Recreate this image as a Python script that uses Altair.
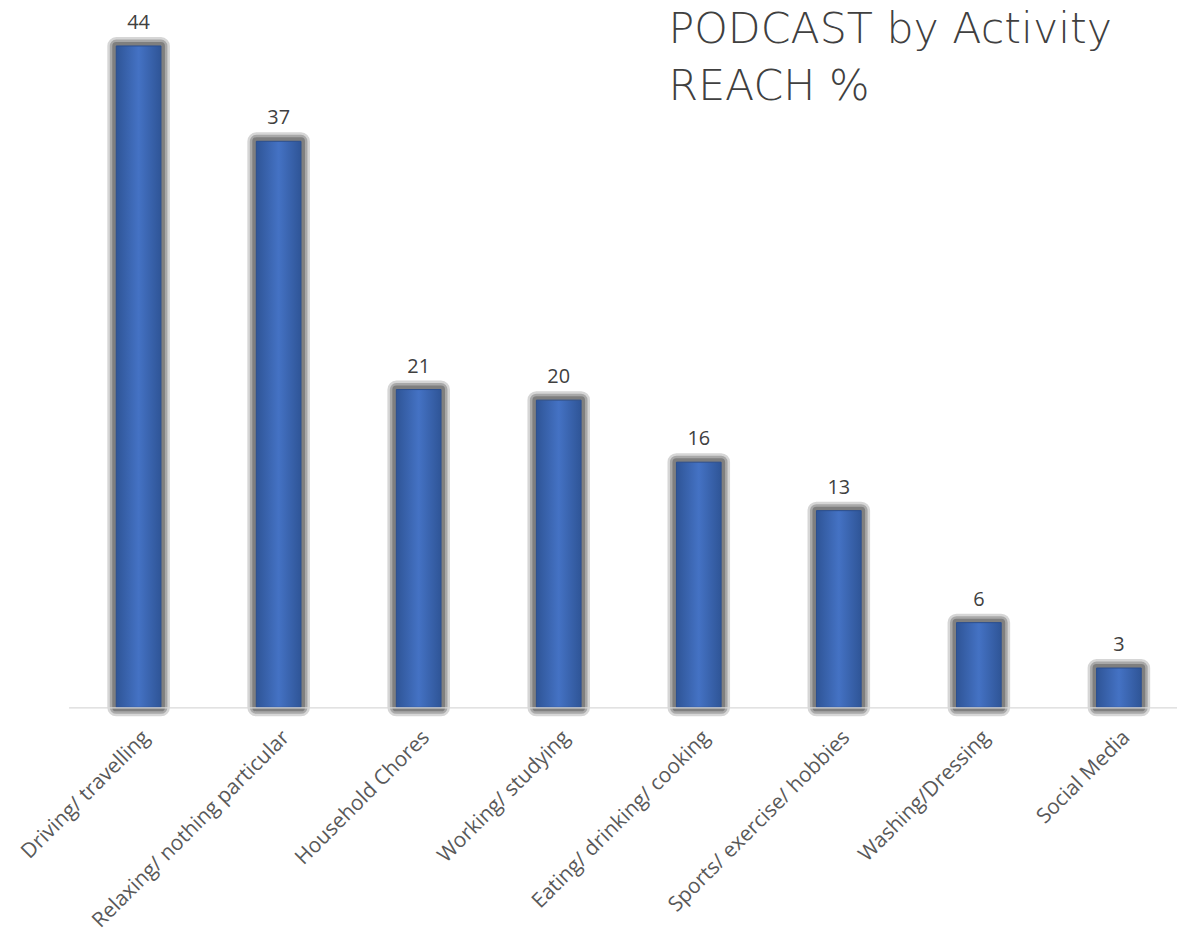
import altair as alt
import pandas as pd

categories = [
    "Driving/ travelling",
    "Relaxing/ nothing particular",
    "Household Chores",
    "Working/ studying",
    "Eating/ drinking/ cooking",
    "Sports/ exercise/ hobbies",
    "Washing/Dressing",
    "Social Media",
]
reach = [43.7, 37.4, 21.0, 20.3, 16.2, 13.0, 5.6, 2.6]
title_lines = ["PODCAST by Activity", "REACH %"]

df = pd.DataFrame({"activity": categories, "reach": reach})
title_df = pd.DataFrame({"t": ["\n".join(title_lines)]})

x = alt.X(
    "activity:N",
    sort=categories,
    scale=alt.Scale(range=[0, 1128]),
    axis=alt.Axis(
        title=None,
        labelAngle=-45,
        labelFontSize=21,
        labelFont="Open Sans",
        labelColor="#595959",
        labelPadding=19,
        ticks=False,
        domainColor="#d9d9d9",
        domainWidth=1.5,
        labelLimit=400,
        zindex=1,
    ),
)
y = alt.Y("reach:Q", scale=alt.Scale(domain=[0, 46]), axis=None)

base = alt.Chart(df).encode(x=x, y=y)

glow1 = base.mark_bar(size=45, color="#d6d6d6", stroke="#d6d6d6", strokeWidth=18,
                      strokeJoin="round", y2Offset=-9)
glow2 = base.mark_bar(size=45, color="#a8a8a8", stroke="#a8a8a8", strokeWidth=13,
                      strokeJoin="round", y2Offset=-6)
glow3 = base.mark_bar(size=45, color="#7f7f7f", stroke="#7f7f7f", strokeWidth=8,
                      strokeJoin="round", y2Offset=-4)
bars = base.mark_bar(
    size=45,
    color=alt.Gradient(
        gradient="linear",
        stops=[
            alt.GradientStop(color="#2f5597", offset=0),
            alt.GradientStop(color="#4472c4", offset=0.5),
            alt.GradientStop(color="#2f5597", offset=1),
        ],
        x1=0, x2=1, y1=0, y2=0,
    ),
    stroke="#2b4f8e",
    strokeWidth=1,
)
labels = base.mark_text(
    dy=-17, baseline="alphabetic", fontSize=20, font="Open Sans", color="#404040"
).encode(text=alt.Text("reach:Q", format=".0f"))

title = alt.Chart(title_df).mark_text(
    align="left", baseline="alphabetic", fontSize=43, font="DejaVu Sans",
    fontWeight=300, color="#404040", lineBreak="\n", lineHeight=57,
).encode(x=alt.value(604), y=alt.value(32), text="t:N")

chart = alt.layer(glow1, glow2, glow3, bars, labels, title).properties(
    width=1116,
    height=701,
    autosize=alt.AutoSizeParams(type="none"),
    padding={"left": 61, "top": 0, "right": 0, "bottom": 224},
).configure_view(stroke=None)

chart.save("out.html", embed_options={"renderer": "svg", "actions": False})
